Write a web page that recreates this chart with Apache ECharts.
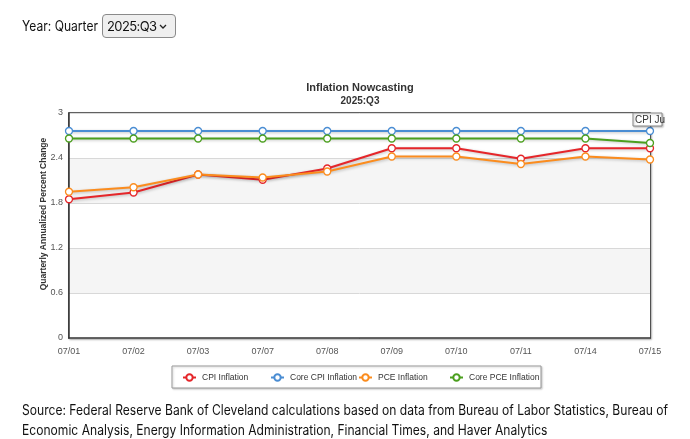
<!DOCTYPE html>
<html>
<head>
<meta charset="utf-8">
<script src="https://cdn.jsdelivr.net/npm/echarts@6/dist/echarts.min.js"></script>
<style>
  html, body { margin: 0; padding: 0; width: 690px; height: 439px; overflow: hidden; background: #fff; }
  #chart { position: absolute; left: 0; top: 0; width: 690px; height: 439px; }
  #hdrtxt { position: absolute; left: 22px; top: 17px; font-family: Inter, "Liberation Sans", sans-serif; font-size: 14px; color: #111; white-space: nowrap; transform-origin: 0 0; }
  #sel { position: absolute; left: 102px; top: 14px; width: 74px; height: 24px; box-sizing: border-box; appearance: none; -webkit-appearance: none;
         font-family: Inter, sans-serif; font-size: 13px; letter-spacing: -0.6px; color: #111; border: 1px solid #8a8a8a; border-radius: 4px; padding: 0 0 0 4px; margin: 0;
         background: #efefef url("data:image/svg+xml,%3Csvg xmlns='http://www.w3.org/2000/svg' width='8' height='5'%3E%3Cpath d='M1 1 L4 4 L7 1' fill='none' stroke='%23222' stroke-width='1.3'/%3E%3C/svg%3E") no-repeat right 8px center; }
  .src { position: absolute; left: 22px; font-family: Inter, "Liberation Sans", sans-serif; font-size: 14px; color: #111; white-space: nowrap; transform-origin: 0 0; }
</style>
</head>
<body>
<div id="chart"></div>
<div id="hdrtxt">Year: Quarter</div>
<select id="sel"><option>2025:Q3</option></select>
<div class="src" id="src1" style="top:401px">Source: Federal Reserve Bank of Cleveland calculations based on data from Bureau of Labor Statistics, Bureau of</div>
<div class="src" id="src2" style="top:421px">Economic Analysis, Energy Information Administration, Financial Times, and Haver Analytics</div>
<script>
const categories = ['07/01','07/02','07/03','07/07','07/08','07/09','07/10','07/11','07/14','07/15'];
const cpi     = [1.85, 1.94, 2.18, 2.11, 2.26, 2.53, 2.53, 2.39, 2.53, 2.53];
const coreCpi = [2.76, 2.76, 2.76, 2.76, 2.76, 2.76, 2.76, 2.76, 2.76, 2.76];
const pce     = [1.95, 2.01, 2.18, 2.14, 2.22, 2.42, 2.42, 2.32, 2.42, 2.38];
const corePce = [2.66, 2.66, 2.66, 2.66, 2.66, 2.66, 2.66, 2.66, 2.66, 2.60];
const seriesNames = ['CPI Inflation','Core CPI Inflation','PCE Inflation','Core PCE Inflation'];
const colors = ['#e5262a','#4a8dd3','#fb8c1e','#4b9f1e'];
const yTicks = { min: 0, max: 3, interval: 0.6 };

// fit header/footer text widths to the reference layout
function fit(id, w) {
  const el = document.getElementById(id);
  const s = w / el.getBoundingClientRect().width;
  el.style.transform = 'scaleX(' + s + ')';
  return s;
}
fit('hdrtxt', 76);
const s1 = fit('src1', 646);
document.getElementById('src2').style.transform = 'scaleX(' + s1 + ')';

const chart = echarts.init(document.getElementById('chart'));
const font = '"Liberation Sans", Arial, sans-serif';
function mk(name, data, color) {
  return {
    name, type: 'line', data, color,
    symbol: 'circle', symbolSize: 7,
    itemStyle: { color: '#fff', borderColor: color, borderWidth: 1.3 },
    lineStyle: { color, width: 2, shadowColor: 'rgba(0,0,0,0.25)', shadowBlur: 3, shadowOffsetX: 1, shadowOffsetY: 1 },
    emphasis: { disabled: true },
    animation: false
  };
}
const legendX = [182, 270, 358, 449];
const legends = seriesNames.map((n, i) => ({
  left: legendX[i], top: 373, padding: 0, z: 60,
  itemWidth: 13, itemHeight: 8, itemGap: 0,
  textStyle: { fontFamily: font, fontSize: 8.5, color: '#333', padding: [0, 0, 0, 1] },
  data: [n]
}));
chart.setOption({
  animation: false,
  title: {
    text: 'Inflation Nowcasting', subtext: '2025:Q3',
    left: 355, textAlign: 'center', top: 77, itemGap: 3,
    textStyle: { fontFamily: font, fontSize: 11, fontWeight: 'bold', color: '#333' },
    subtextStyle: { fontFamily: font, fontSize: 10, fontWeight: 'bold', color: '#333' }
  },
  grid: { left: 69, right: 40, top: 113, bottom: 101, show: true, borderColor: '#333', borderWidth: 1.5, shadowColor: 'rgba(0,0,0,0.3)', shadowBlur: 2, shadowOffsetX: 1, shadowOffsetY: 1, backgroundColor: '#fff' },
  legend: legends,
  xAxis: {
    type: 'category', data: categories, boundaryGap: false,
    axisLine: { lineStyle: { color: '#333', width: 1.5 } },
    axisTick: { show: false },
    axisLabel: { fontFamily: font, fontSize: 9, color: '#555', margin: 9 },
    splitLine: { show: false }
  },
  yAxis: {
    type: 'value', min: yTicks.min, max: yTicks.max, interval: yTicks.interval,
    axisLine: { show: true, lineStyle: { color: '#333', width: 1.5 } },
    axisTick: { show: false },
    axisLabel: { fontFamily: font, fontSize: 9, color: '#555', margin: 6, formatter: v => String(+v.toFixed(1)) },
    splitLine: { lineStyle: { color: '#d8d8d8', width: 1 } },
    splitArea: { show: true, areaStyle: { color: ['#ffffff', '#f5f5f5'] } }
  },
  series: [
    mk(seriesNames[0], cpi, colors[0]),
    mk(seriesNames[1], coreCpi, colors[1]),
    mk(seriesNames[2], pce, colors[2]),
    mk(seriesNames[3], corePce, colors[3])
  ],
  graphic: [
    { type: 'text', x: 44, y: 214, rotation: Math.PI / 2, z: 50,
      style: { text: 'Quarterly Annualized Percent Change', fontFamily: font, fontSize: 8.5, fontWeight: 'bold', fill: '#333', align: 'center', verticalAlign: 'middle' } },
    { type: 'rect', x: 172, y: 366, z: 40, shape: { x: 0, y: 0, width: 369, height: 22 },
      style: { fill: '#fff', stroke: '#999', lineWidth: 1, shadowColor: 'rgba(0,0,0,0.2)', shadowBlur: 2, shadowOffsetX: 1, shadowOffsetY: 1 } },
    { type: 'rect', x: 633, y: 113, z: 100, shape: { x: 0, y: 0, width: 29, height: 13 },
      style: { fill: '#fff', stroke: '#888', lineWidth: 1, shadowColor: 'rgba(0,0,0,0.25)', shadowBlur: 2, shadowOffsetX: 1, shadowOffsetY: 1 } },
    { type: 'text', x: 635, y: 115, z: 101,
      style: { text: 'CPI Ju', fontFamily: font, fontSize: 10, fill: '#333' } }
  ]
});
</script>
</body>
</html>
